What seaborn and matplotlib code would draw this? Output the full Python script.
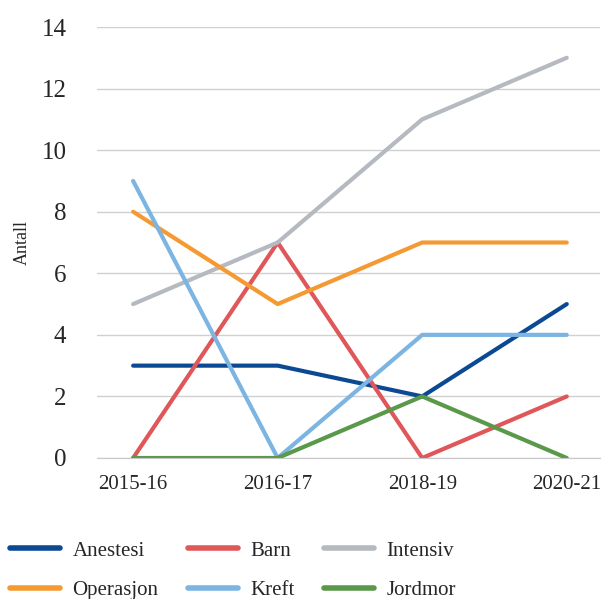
import pandas as pd
import numpy as np
import matplotlib.pyplot as plt
import seaborn as sns

# data
years = ["2015-16", "2016-17", "2018-19", "2020-21"]
anestesi = [3, 3, 2, 5]
barn = [0, 7, 0, 2]
intensiv = [5, 7, 11, 13]
operasjon = [8, 5, 7, 7]
kreft = [9, 0, 4, 4]
jordmor = [0, 0, 2, 0]

series = {
    "Anestesi": anestesi,
    "Barn": barn,
    "Intensiv": intensiv,
    "Operasjon": operasjon,
    "Kreft": kreft,
    "Jordmor": jordmor,
}
colors = ["#0b4a92", "#e05759", "#b5b9c0", "#f59a33", "#7cb4e2", "#5a984a"]

rows = []
for name, vals in series.items():
    for y, v in zip(years, vals):
        rows.append({"year": y, "Antall": v, "serie": name})
df = pd.DataFrame(rows)

sns.set_style("white")
plt.rcParams["font.family"] = ["Liberation Serif", "DejaVu Serif"]

fig = plt.figure(figsize=(6.05, 5.99), dpi=100)
ax = fig.add_axes([97 / 605, 1 - 458 / 599, 503 / 605, 431 / 599])

sns.lineplot(data=df, x="year", y="Antall", hue="serie", palette=colors,
             linewidth=3, sort=False, ax=ax, legend=False)

ax.set_ylim(0, 14)
ax.set_xlim(-0.25, 3.23)
ax.set_yticks(range(0, 15, 2))
ax.grid(axis="y", color="#d0d0d0", linewidth=1)
ax.set_axisbelow(True)
for s in ["top", "right", "left"]:
    ax.spines[s].set_visible(False)
ax.spines["bottom"].set_color("#c8c8c8")
ax.tick_params(axis="y", labelsize=18, length=0, pad=22)
ax.tick_params(axis="x", labelsize=15, length=0, pad=12)
ax.set_xlabel("")
ax.set_ylabel("Antall", fontsize=13, labelpad=8)

# legend is filled column by column, so order it to read row by row
names = list(series.keys())
order = [0, 3, 1, 4, 2, 5]
handles = [plt.Line2D([], [], color=colors[i], linewidth=4, solid_capstyle="round") for i in order]
fig.legend(handles, [names[i] for i in order], ncol=3, loc="upper left",
           bbox_to_anchor=(10 / 605, 1 - 541 / 599), frameon=False, fontsize=15,
           borderaxespad=0, borderpad=0,
           handlelength=2.4, columnspacing=1.4, handletextpad=0.6, labelspacing=0.95)

plt.savefig("out.png", dpi=100)
